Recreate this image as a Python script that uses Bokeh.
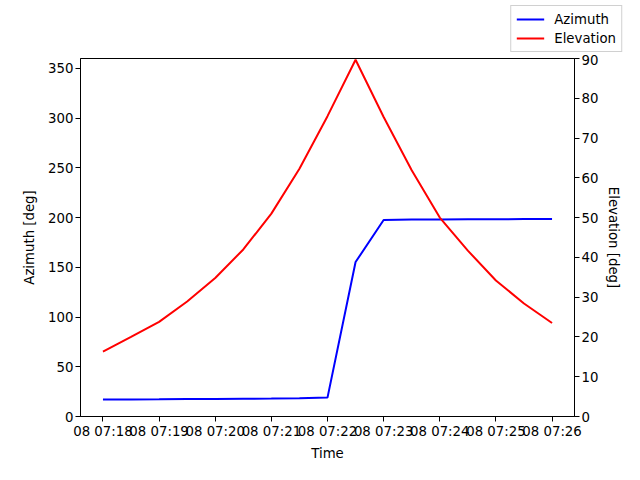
from datetime import datetime
from bokeh.plotting import figure
from bokeh.layouts import column, row
from bokeh.models import (Range1d, LinearAxis, FixedTicker, DatetimeTickFormatter,
                          Legend, LegendItem, ColumnDataSource)
from bokeh.embed import file_html
from bokeh.resources import INLINE

# ---- data ----
times = ["07:18:00", "07:18:30", "07:19:00", "07:19:30", "07:20:00", "07:20:30",
         "07:21:00", "07:21:30", "07:22:00", "07:22:30", "07:23:00", "07:23:30",
         "07:24:00", "07:24:30", "07:25:00", "07:25:30", "07:26:00"]
azimuth = [17.0, 17.2, 17.3, 17.5, 17.6, 17.8, 18.0, 18.4, 19.0, 155.3, 197.6,
           198.0, 198.2, 198.3, 198.4, 198.5, 198.6]
elevation = [16.3, 20.0, 23.8, 28.9, 34.8, 42.0, 51.0, 62.3, 75.5, 89.7, 75.3,
             61.9, 50.0, 41.7, 34.2, 28.4, 23.5]
tick_times = ["07:18", "07:19", "07:20", "07:21", "07:22", "07:23", "07:24",
              "07:25", "07:26"]
series_names = ["Azimuth", "Elevation"]
series_colors = ["#0000ff", "#ff0000"]
day = "2024-01-08"

FONT = "DejaVu Sans"
FS = "13.3px"

t = [datetime.strptime(f"{day} {s}", "%Y-%m-%d %H:%M:%S") for s in times]
src = ColumnDataSource(dict(t=t, az=azimuth, el=elevation))
leg_src = ColumnDataSource(dict(x=[0.0, 0.0], y=[-10.0, -10.0]))

span = t[-1] - t[0]
x0 = t[0] - span * 0.05
x1 = t[-1] + span * 0.05

# ---- legend strip (top) ----
lg = figure(width=624, height=54, x_range=Range1d(0, 1), y_range=Range1d(0, 1),
            output_backend="svg", toolbar_location=None,
            min_border=0, min_border_left=0, min_border_right=0,
            min_border_top=0, min_border_bottom=0)
lg.xaxis.visible = False
lg.yaxis.visible = False
lg.outline_line_color = None
lg.xgrid.visible = False
lg.ygrid.visible = False
items = []
for name, col in zip(series_names, series_colors):
    r = lg.line(x="x", y="y", source=leg_src, color=col, line_width=2)
    items.append(LegendItem(label=name, renderers=[r]))
legend = Legend(items=items, location="bottom_right")
legend.label_text_font = FONT
legend.label_text_font_size = FS
legend.label_text_color = "black"
legend.label_standoff = 10
legend.glyph_width = 28
legend.glyph_height = 16
legend.label_height = 16
legend.spacing = 3
legend.padding = 5
legend.margin = 2
legend.border_line_color = "#d0d0d0"
legend.border_line_alpha = 1.0
legend.background_fill_alpha = 0.8
lg.add_layout(legend, "center")

# ---- main plot ----
p = figure(width=624, height=410, x_axis_type="datetime",
           x_range=Range1d(x0, x1), y_range=Range1d(0, 360),
           output_backend="svg", toolbar_location=None,
           min_border_left=80, min_border_right=48, min_border_top=4,
           min_border_bottom=48)
p.extra_y_ranges = {"el": Range1d(0, 90)}

epoch = datetime(1970, 1, 1)
tick_ms = [(datetime.strptime(f"{day} {s}", "%Y-%m-%d %H:%M") - epoch).total_seconds() * 1000
           for s in tick_times]

p.xgrid.visible = False
p.ygrid.visible = False
p.outline_line_color = "black"
p.outline_line_alpha = 1.0
p.outline_line_width = 1

p.line("t", "az", source=src, color=series_colors[0], line_width=2)
p.line("t", "el", source=src, color=series_colors[1], line_width=2, y_range_name="el")

p.xaxis.ticker = FixedTicker(ticks=tick_ms)
fmt = "%d %H:%M"
p.xaxis.formatter = DatetimeTickFormatter(seconds=fmt, minsec=fmt, minutes=fmt,
                                          hourmin=fmt, hours=fmt, days=fmt)
p.xaxis.axis_label = "Time"
p.yaxis.ticker = FixedTicker(ticks=list(range(0, 351, 50)))
p.yaxis.axis_label = "Azimuth [deg]"

right = LinearAxis(y_range_name="el", axis_label="Elevation [deg]",
                   ticker=FixedTicker(ticks=list(range(0, 91, 10))))
p.add_layout(right, "right")

for ax in [p.xaxis[0], p.yaxis[0], right]:
    ax.major_label_text_font = FONT
    ax.major_label_text_font_size = FS
    ax.major_label_text_color = "black"
    ax.axis_label_text_font = FONT
    ax.axis_label_text_font_size = FS
    ax.axis_label_text_font_style = "normal"
    ax.axis_label_text_color = "black"
    ax.minor_tick_line_color = None
    ax.major_tick_out = 5
    ax.major_tick_in = 0
    ax.major_tick_line_color = "black"
    ax.axis_line_color = "black"
    ax.major_label_standoff = 2
    ax.axis_label_standoff = 4
right.axis_label_standoff = 5
p.yaxis[0].axis_label_standoff = 8

layout = column(row(lg), p, spacing=0)
open("out.html", "w").write(file_html(layout, INLINE))
